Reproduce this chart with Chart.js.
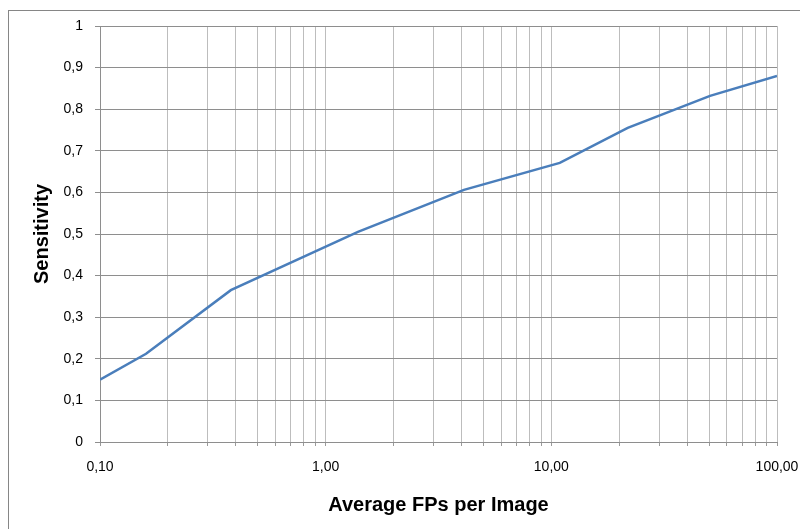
<!DOCTYPE html>
<html>
<head>
<meta charset="utf-8">
<script src="https://cdn.jsdelivr.net/npm/chart.js@4/dist/chart.umd.min.js"></script>
<style>
  html, body { margin: 0; padding: 0; background: #fff; }
  #wrap { position: relative; width: 800px; height: 529px; }
  #frame {
    position: absolute; left: 8px; top: 10px; right: 0; bottom: 0;
    border-left: 1px solid #868686; border-top: 1px solid #868686;
    pointer-events: none;
  }
</style>
</head>
<body>
<div id="wrap">
  <canvas id="roc" width="800" height="529"></canvas>
  <div id="frame"></div>
</div>
<script>
// Datos
const fpsPerImage = [0.1, 0.16, 0.38, 1.39, 4.1, 10.9, 21.8, 50.5, 100];
const sensitivity = [0.15, 0.212, 0.365, 0.505, 0.606, 0.671, 0.755, 0.832, 0.88];
const xMajorTicks = [0.1, 1, 10, 100];
const yTicks = [0, 0.1, 0.2, 0.3, 0.4, 0.5, 0.6, 0.7, 0.8, 0.9, 1];

const fontFamily = "'Liberation Sans', Arial, sans-serif";

function formatComma(value, digits) {
  return value.toFixed(digits).replace(".", ",");
}

const ctx = document.getElementById("roc").getContext("2d");
new Chart(ctx, {
  type: "line",
  data: {
    datasets: [
      {
        data: fpsPerImage.map((x, i) => ({ x: x, y: sensitivity[i] })),
        borderColor: "#4a7ebb",
        borderWidth: 2.5,
        pointRadius: 0,
        tension: 0,
        fill: false,
      },
    ],
  },
  options: {
    responsive: false,
    animation: false,
    layout: { padding: { left: 0, top: 26, right: 0, bottom: 0 } },
    plugins: { legend: { display: false }, tooltip: { enabled: false } },
    scales: {
      x: {
        type: "logarithmic",
        min: 0.1,
        max: 100,
        afterFit: (scale) => {
          scale.height = 87;
          scale.paddingRight = 23;
        },
        afterBuildTicks: (scale) => {
          const ticks = [];
          xMajorTicks.forEach((m, i) => {
            if (i === xMajorTicks.length - 1) {
              ticks.push({ value: m });
              return;
            }
            for (let k = 1; k <= 9; k++) ticks.push({ value: m * k });
          });
          scale.ticks = ticks;
        },
        grid: {
          color: "#bdbdbd",
          lineWidth: 1,
          tickLength: 4,
          tickColor: "#9a9a9a",
        },
        border: { color: "#8e8e8e" },
        ticks: {
          autoSkip: false,
          maxRotation: 0,
          padding: 13,
          color: "#000",
          font: { family: fontFamily, size: 14 },
          callback: function (value) {
            const isMajor = xMajorTicks.some((m) => Math.abs(m - value) < 1e-9);
            return isMajor ? formatComma(value, 2) : "";
          },
        },
        title: {
          display: true,
          text: "Average FPs per Image",
          color: "#000",
          font: { family: fontFamily, size: 20, weight: "bold" },
          padding: { top: 0, bottom: 12 },
        },
      },
      y: {
        min: 0,
        max: 1,
        afterFit: (scale) => { scale.width = 100; },
        afterBuildTicks: (scale) => {
          scale.ticks = yTicks.map((v) => ({ value: v }));
        },
        grid: {
          color: "#8e8e8e",
          lineWidth: 1,
          tickLength: 5,
          tickColor: "#8e8e8e",
        },
        border: { color: "#8e8e8e" },
        ticks: {
          padding: 12,
          color: "#000",
          font: { family: fontFamily, size: 14 },
          callback: function (value) {
            if (value === 0 || value === 1) return String(value);
            return formatComma(value, 1);
          },
        },
        title: {
          display: true,
          text: "Sensitivity",
          color: "#000",
          font: { family: fontFamily, size: 20, weight: "bold" },
          padding: { top: 30, bottom: 0 },
        },
      },
    },
  },
});
</script>
</body>
</html>
